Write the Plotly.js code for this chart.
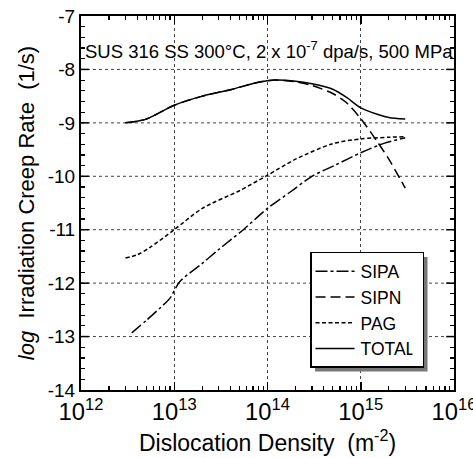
<!DOCTYPE html>
<html><head><meta charset="utf-8">
<script src="https://cdn.plot.ly/plotly-3.0.1.min.js"></script>
<style>body{margin:0;background:#fff}#g{width:473px;height:458px}</style>
</head><body><div id="g"></div>
<script>
// Dislocation density (m^-2) and log10 irradiation creep rate (1/s)
const totalX = [3e12, 5e12, 1e13, 2e13, 4e13, 8e13, 1.2e14, 2e14, 3e14, 5e14, 7e14, 1e15, 1.5e15, 2e15, 3e15];
const totalY = [-9.0, -8.93, -8.67, -8.5, -8.38, -8.24, -8.2, -8.22, -8.27, -8.37, -8.52, -8.72, -8.84, -8.9, -8.93];

const sipnX = [3e12, 5e12, 1e13, 2e13, 4e13, 8e13, 1.2e14, 2e14, 3e14, 5e14, 7e14, 1e15, 1.5e15, 2e15, 3e15];
const sipnY = [-9.0, -8.93, -8.67, -8.5, -8.38, -8.24, -8.2, -8.23, -8.3, -8.45, -8.62, -8.92, -9.35, -9.68, -10.22];

const pagX = [3e12, 4e12, 5.5e12, 1e13, 2e13, 5e13, 1e14, 2e14, 5e14, 1e15, 2e15, 3e15];
const pagY = [-11.53, -11.47, -11.33, -11.0, -10.6, -10.27, -9.98, -9.68, -9.39, -9.3, -9.27, -9.26];

const sipaX = [3.5e12, 5e12, 7e12, 9e12, 1.15e13, 2e13, 3e13, 5.5e13, 1e14, 1.8e14, 3e14, 5.5e14, 1e15, 1.8e15, 3e15];
const sipaY = [-12.93, -12.7, -12.47, -12.28, -11.97, -11.63, -11.37, -11.0, -10.6, -10.28, -10.0, -9.78, -9.56, -9.38, -9.28];

const yMajor = [-14, -13, -12, -11, -10, -9, -8, -7];
const yTickVals = [];
const yTickText = [];
for (let i = 0; i <= 35; i++) {
  const v = Math.round((-14 + i * 0.2) * 10) / 10;
  yTickVals.push(v);
  yTickText.push(i % 5 === 0 ? String(v) : '');
}

const xRange = [11.9999, 16.0001];
const yRange = [-14, -7];

const F = 'Liberation Sans, Arial, sans-serif';
const mk = (x, y, name, dash) => ({x, y, name, type: 'scatter', mode: 'lines',
  line: {color: '#000', width: 1.5, dash, shape: 'spline', smoothing: 0.8}});

const data = [
  mk(sipaX, sipaY, 'SIPA', '12px,3px,3px,3px'),
  mk(sipnX, sipnY, 'SIPN', '10px,5px'),
  mk(pagX, pagY, 'PAG', '4px,2.5px'),
  mk(totalX, totalY, 'TOTAL', 'solid')
];

const gridShapes = yMajor.slice(1, -1).map(v => ({type: 'line', xref: 'paper', yref: 'y',
  x0: 0, x1: 1, y0: v, y1: v, layer: 'below', line: {color: '#444', width: 1, dash: 'dot'}}));
const majorTickShapes = yMajor.slice(1, -1).flatMap(v => [
  {type: 'line', xref: 'paper', yref: 'y', x0: 0, x1: 0.021, y0: v, y1: v, line: {color: '#000', width: 1.5}},
  {type: 'line', xref: 'paper', yref: 'y', x0: 0.979, x1: 1, y0: v, y1: v, line: {color: '#000', width: 1.5}}
]);

const layout = {
  width: 473, height: 458,
  margin: {l: 81, r: 19, t: 16, b: 68},
  paper_bgcolor: '#fff', plot_bgcolor: '#fff',
  font: {family: F, color: '#000', size: 18},
  showlegend: true,
  legend: {x: 0.614, y: 0.369, xanchor: 'left', yanchor: 'top',
    bgcolor: '#fff', bordercolor: '#000', borderwidth: 1.5,
    font: {family: F, size: 17.5}, tracegroupgap: 0},
  xaxis: {type: 'log', range: xRange, dtick: 1, exponentformat: 'power', ticklabeloverflow: 'allow',
    ticks: 'inside', ticklen: 8, tickwidth: 1.5, tickcolor: '#000', mirror: 'ticks',
    showline: true, linewidth: 2, linecolor: '#000',
    showgrid: true, gridcolor: '#444', griddash: 'dot', gridwidth: 1,
    minor: {ticks: 'inside', ticklen: 4, tickwidth: 1.2, tickcolor: '#000', dtick: 'D1', showgrid: false},
    zeroline: false, tickfont: {size: 19},
    title: {text: 'Dislocation Density\u00A0\u00A0(m<sup>-2</sup>)', font: {size: 23}, standoff: 11}},
  yaxis: {range: yRange, tickmode: 'array', tickvals: yTickVals, ticktext: yTickText,
    ticks: 'inside', ticklen: 4, tickwidth: 1.2, tickcolor: '#000', mirror: 'ticks',
    showline: true, linewidth: 2, linecolor: '#000',
    showgrid: false, zeroline: false, tickfont: {size: 19},
    title: {text: '<i>log</i>\u00A0\u00A0Irradiation Creep Rate\u00A0\u00A0(1/s)', font: {size: 22}, standoff: 7}},
  shapes: gridShapes.concat(majorTickShapes),
  annotations: [{xref: 'paper', yref: 'paper', x: 0.005, y: 0.909, xanchor: 'left', yanchor: 'middle',
    showarrow: false, text: 'SUS 316 SS 300°C, 2 x 10<sup>-7</sup> dpa/s, 500 MPa',
    font: {family: F, size: 18.5}}]
};

Plotly.newPlot('g', data, layout, {displayModeBar: false, staticPlot: true}).then(() => {
  const extra = 10;
  document.querySelectorAll('.legend .traces').forEach(t => {
    t.querySelectorAll('.legendlines path, path.js-line').forEach(p => p.setAttribute('d', 'M4,0h39'));
    const tx = t.querySelector('.legendtext');
    if (tx) tx.setAttribute('x', 49);
  });
  const bg = document.querySelector('.legend .bg');
  if (bg) {
    const w = +bg.getAttribute('width') + extra, h = +bg.getAttribute('height');
    bg.setAttribute('width', w);
    const r = document.createElementNS('http://www.w3.org/2000/svg', 'rect');
    r.setAttribute('x', 5); r.setAttribute('y', 5);
    r.setAttribute('width', w); r.setAttribute('height', h);
    r.setAttribute('fill', '#777');
    bg.parentNode.insertBefore(r, bg);
  }
});
</script></body></html>
